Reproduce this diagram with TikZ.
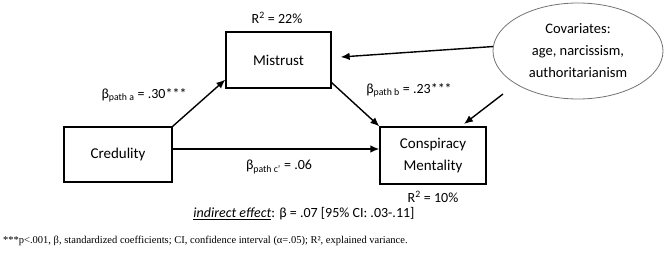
\documentclass[tikz,border=0pt]{standalone}
\usepackage{fontspec}
\setmainfont{Carlito}
\newfontfamily\footfont{Liberation Serif}
\usetikzlibrary{arrows.meta,shapes.geometric}
\begin{document}
\begin{tikzpicture}[x=1pt,y=-1pt,
  box/.style={draw,line width=1.3pt,inner sep=0pt,align=center,font=\fontsize{15}{22}\selectfont},
  lab/.style={inner sep=0pt,font=\fontsize{14}{16}\selectfont},
  arr/.style={-{Latex[length=9pt,width=7.5pt]},line width=1.4pt},
  sub/.style={}]
\useasboundingbox (0,0) rectangle (667,259);
\node[box,minimum width=105pt,minimum height=56pt] (mis) at (278.5,60) {Mistrust};
\node[box,minimum width=108pt,minimum height=55pt] (cred) at (118,154.5) {Credulity};
\node[box,minimum width=106pt,minimum height=57pt] (cons) at (433,155.5) {Conspiracy\\Mentality};
\node[ellipse,draw=black!55,line width=0.8pt,minimum width=170pt,minimum height=96pt,inner sep=0pt,
      align=center,font=\fontsize{14.5}{22}\selectfont] (cov) at (578,51) {Covariates:\\age, narcissism,\\authoritarianism};
\node[lab] (r1) at (277,18) {R\textsuperscript{2} = 22\%};
\node[lab] (r2) at (433,197) {R\textsuperscript{2} = 10\%};
\node[lab] (pa) at (144,95) {β\textsubscript{path a} = .30***};
\node[lab] (pb) at (409,90) {β\textsubscript{path b} = .23***};
\node[lab] (pc) at (279,167) {β\textsubscript{path c’} = .06};
\node[lab] (ind) at (304,214) {\underline{\textit{indirect effect}}: β = .07 [95\% CI: .03-.11]};
\node[inner sep=0pt,anchor=west,font=\footfont\fontsize{10.5}{12}\selectfont] (foot) at (3,241)
  {***p<.001, β, standardized coefficients; CI, confidence interval (α=.05); R², explained variance.};
\coordinate (mtip) at ([xshift=9pt,yshift=3pt]mis.east);
\coordinate (cstart) at (503,94);
\coordinate (ctip) at (464,124);
\draw[arr] (cred.north east) -- ([yshift=9pt]mis.south west);
\draw[arr] ([yshift=6pt]mis.south east) -- (cons.north west);
\draw[arr] ([yshift=5.5pt]cred.east) -- ([yshift=5.5pt]cred.east -| cons.west);
\draw[arr] (cov.177) -- (mtip);
\draw[arr] (cstart) -- (ctip);
\end{tikzpicture}
\end{document}
